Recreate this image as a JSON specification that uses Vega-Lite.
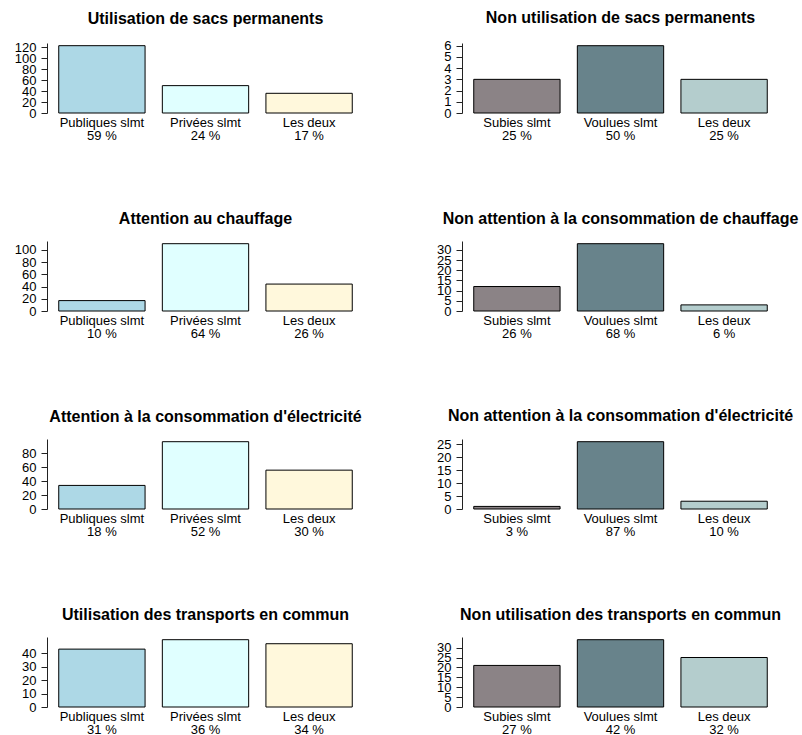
{
  "$schema": "https://vega.github.io/schema/vega-lite/v6.json",
  "padding": {"left": 11, "top": 9, "right": 0, "bottom": 0},
  "background": "white",
  "datasets": {
    "d": [
      {"panel": "P1", "cat": "Publiques slmt", "lab": "Publiques slmt|59 %", "n": 123},
      {"panel": "P1", "cat": "Privées slmt", "lab": "Privées slmt|24 %", "n": 50},
      {"panel": "P1", "cat": "Les deux", "lab": "Les deux|17 %", "n": 36},
      {"panel": "P2", "cat": "Subies slmt", "lab": "Subies slmt|25 %", "n": 3},
      {"panel": "P2", "cat": "Voulues slmt", "lab": "Voulues slmt|50 %", "n": 6},
      {"panel": "P2", "cat": "Les deux", "lab": "Les deux|25 %", "n": 3},
      {"panel": "P3", "cat": "Publiques slmt", "lab": "Publiques slmt|10 %", "n": 17},
      {"panel": "P3", "cat": "Privées slmt", "lab": "Privées slmt|64 %", "n": 110},
      {"panel": "P3", "cat": "Les deux", "lab": "Les deux|26 %", "n": 44},
      {"panel": "P4", "cat": "Subies slmt", "lab": "Subies slmt|26 %", "n": 12},
      {"panel": "P4", "cat": "Voulues slmt", "lab": "Voulues slmt|68 %", "n": 33},
      {"panel": "P4", "cat": "Les deux", "lab": "Les deux|6 %", "n": 3},
      {"panel": "P5", "cat": "Publiques slmt", "lab": "Publiques slmt|18 %", "n": 34},
      {"panel": "P5", "cat": "Privées slmt", "lab": "Privées slmt|52 %", "n": 97},
      {"panel": "P5", "cat": "Les deux", "lab": "Les deux|30 %", "n": 56},
      {"panel": "P6", "cat": "Subies slmt", "lab": "Subies slmt|3 %", "n": 1},
      {"panel": "P6", "cat": "Voulues slmt", "lab": "Voulues slmt|87 %", "n": 26},
      {"panel": "P6", "cat": "Les deux", "lab": "Les deux|10 %", "n": 3},
      {"panel": "P7", "cat": "Publiques slmt", "lab": "Publiques slmt|31 %", "n": 43},
      {"panel": "P7", "cat": "Privées slmt", "lab": "Privées slmt|36 %", "n": 50},
      {"panel": "P7", "cat": "Les deux", "lab": "Les deux|34 %", "n": 47},
      {"panel": "P8", "cat": "Subies slmt", "lab": "Subies slmt|27 %", "n": 21},
      {"panel": "P8", "cat": "Voulues slmt", "lab": "Voulues slmt|42 %", "n": 34},
      {"panel": "P8", "cat": "Les deux", "lab": "Les deux|32 %", "n": 25}
    ]
  },
  "bounds": "flush",
  "spacing": 198,
  "vconcat": [
    {
      "bounds": "flush",
      "spacing": 98,
      "resolve": {"scale": {"x": "independent", "y": "independent", "color": "independent"}},
      "hconcat": [
        {
          "data": {"name": "d"},
          "transform": [{"filter": "datum.panel == 'P1'"}],
          "title": "Utilisation de sacs permanents",
          "width": 317, "height": 70,
          "mark": {"type": "bar", "stroke": "black", "strokeWidth": 1},
          "encoding": {
            "x": {"field": "lab", "type": "nominal", "sort": null, "scale": {"paddingInner": 0.1667, "paddingOuter": 0.1133}, "axis": {"title": null, "labelExpr": "split(datum.label, '|')"}},
            "y": {"field": "n", "type": "quantitative", "scale": {"domain": [0, 127.9], "nice": false}, "axis": {"title": null, "values": [0, 20, 40, 60, 80, 100, 120]}},
            "color": {"field": "cat", "type": "nominal", "scale": {"domain": ["Publiques slmt", "Privées slmt", "Les deux"], "range": ["#ADD8E6", "#E0FFFF", "#FFF8DC"]}, "legend": null}
          }
        },
        {
          "data": {"name": "d"},
          "transform": [{"filter": "datum.panel == 'P2'"}],
          "title": "Non utilisation de sacs permanents",
          "width": 317, "height": 70,
          "mark": {"type": "bar", "stroke": "black", "strokeWidth": 1},
          "encoding": {
            "x": {"field": "lab", "type": "nominal", "sort": null, "scale": {"paddingInner": 0.1667, "paddingOuter": 0.1133}, "axis": {"title": null, "labelExpr": "split(datum.label, '|')"}},
            "y": {"field": "n", "type": "quantitative", "scale": {"domain": [0, 6.24], "nice": false}, "axis": {"title": null, "values": [0, 1, 2, 3, 4, 5, 6]}},
            "color": {"field": "cat", "type": "nominal", "scale": {"domain": ["Subies slmt", "Voulues slmt", "Les deux"], "range": ["#8B8386", "#68838B", "#B4CDCD"]}, "legend": null}
          }
        }
      ]
    },
    {
      "bounds": "flush",
      "spacing": 98,
      "resolve": {"scale": {"x": "independent", "y": "independent", "color": "independent"}},
      "hconcat": [
        {
          "data": {"name": "d"},
          "transform": [{"filter": "datum.panel == 'P3'"}],
          "title": "Attention au chauffage",
          "width": 317, "height": 70,
          "mark": {"type": "bar", "stroke": "black", "strokeWidth": 1},
          "encoding": {
            "x": {"field": "lab", "type": "nominal", "sort": null, "scale": {"paddingInner": 0.1667, "paddingOuter": 0.1133}, "axis": {"title": null, "labelExpr": "split(datum.label, '|')"}},
            "y": {"field": "n", "type": "quantitative", "scale": {"domain": [0, 114.4], "nice": false}, "axis": {"title": null, "values": [0, 20, 40, 60, 80, 100]}},
            "color": {"field": "cat", "type": "nominal", "scale": {"domain": ["Publiques slmt", "Privées slmt", "Les deux"], "range": ["#ADD8E6", "#E0FFFF", "#FFF8DC"]}, "legend": null}
          }
        },
        {
          "data": {"name": "d"},
          "transform": [{"filter": "datum.panel == 'P4'"}],
          "title": "Non attention à la consommation de chauffage",
          "width": 317, "height": 70,
          "mark": {"type": "bar", "stroke": "black", "strokeWidth": 1},
          "encoding": {
            "x": {"field": "lab", "type": "nominal", "sort": null, "scale": {"paddingInner": 0.1667, "paddingOuter": 0.1133}, "axis": {"title": null, "labelExpr": "split(datum.label, '|')"}},
            "y": {"field": "n", "type": "quantitative", "scale": {"domain": [0, 34.32], "nice": false}, "axis": {"title": null, "values": [0, 5, 10, 15, 20, 25, 30]}},
            "color": {"field": "cat", "type": "nominal", "scale": {"domain": ["Subies slmt", "Voulues slmt", "Les deux"], "range": ["#8B8386", "#68838B", "#B4CDCD"]}, "legend": null}
          }
        }
      ]
    },
    {
      "bounds": "flush",
      "spacing": 98,
      "resolve": {"scale": {"x": "independent", "y": "independent", "color": "independent"}},
      "hconcat": [
        {
          "data": {"name": "d"},
          "transform": [{"filter": "datum.panel == 'P5'"}],
          "title": "Attention à la consommation d'électricité",
          "width": 317, "height": 70,
          "mark": {"type": "bar", "stroke": "black", "strokeWidth": 1},
          "encoding": {
            "x": {"field": "lab", "type": "nominal", "sort": null, "scale": {"paddingInner": 0.1667, "paddingOuter": 0.1133}, "axis": {"title": null, "labelExpr": "split(datum.label, '|')"}},
            "y": {"field": "n", "type": "quantitative", "scale": {"domain": [0, 100.88], "nice": false}, "axis": {"title": null, "values": [0, 20, 40, 60, 80]}},
            "color": {"field": "cat", "type": "nominal", "scale": {"domain": ["Publiques slmt", "Privées slmt", "Les deux"], "range": ["#ADD8E6", "#E0FFFF", "#FFF8DC"]}, "legend": null}
          }
        },
        {
          "data": {"name": "d"},
          "transform": [{"filter": "datum.panel == 'P6'"}],
          "title": "Non attention à la consommation d'électricité",
          "width": 317, "height": 70,
          "mark": {"type": "bar", "stroke": "black", "strokeWidth": 1},
          "encoding": {
            "x": {"field": "lab", "type": "nominal", "sort": null, "scale": {"paddingInner": 0.1667, "paddingOuter": 0.1133}, "axis": {"title": null, "labelExpr": "split(datum.label, '|')"}},
            "y": {"field": "n", "type": "quantitative", "scale": {"domain": [0, 27.04], "nice": false}, "axis": {"title": null, "values": [0, 5, 10, 15, 20, 25]}},
            "color": {"field": "cat", "type": "nominal", "scale": {"domain": ["Subies slmt", "Voulues slmt", "Les deux"], "range": ["#8B8386", "#68838B", "#B4CDCD"]}, "legend": null}
          }
        }
      ]
    },
    {
      "bounds": "flush",
      "spacing": 98,
      "resolve": {"scale": {"x": "independent", "y": "independent", "color": "independent"}},
      "hconcat": [
        {
          "data": {"name": "d"},
          "transform": [{"filter": "datum.panel == 'P7'"}],
          "title": "Utilisation des transports en commun",
          "width": 317, "height": 70,
          "mark": {"type": "bar", "stroke": "black", "strokeWidth": 1},
          "encoding": {
            "x": {"field": "lab", "type": "nominal", "sort": null, "scale": {"paddingInner": 0.1667, "paddingOuter": 0.1133}, "axis": {"title": null, "labelExpr": "split(datum.label, '|')"}},
            "y": {"field": "n", "type": "quantitative", "scale": {"domain": [0, 52], "nice": false}, "axis": {"title": null, "values": [0, 10, 20, 30, 40]}},
            "color": {"field": "cat", "type": "nominal", "scale": {"domain": ["Publiques slmt", "Privées slmt", "Les deux"], "range": ["#ADD8E6", "#E0FFFF", "#FFF8DC"]}, "legend": null}
          }
        },
        {
          "data": {"name": "d"},
          "transform": [{"filter": "datum.panel == 'P8'"}],
          "title": "Non utilisation des transports en commun",
          "width": 317, "height": 70,
          "mark": {"type": "bar", "stroke": "black", "strokeWidth": 1},
          "encoding": {
            "x": {"field": "lab", "type": "nominal", "sort": null, "scale": {"paddingInner": 0.1667, "paddingOuter": 0.1133}, "axis": {"title": null, "labelExpr": "split(datum.label, '|')"}},
            "y": {"field": "n", "type": "quantitative", "scale": {"domain": [0, 35.36], "nice": false}, "axis": {"title": null, "values": [0, 5, 10, 15, 20, 25, 30]}},
            "color": {"field": "cat", "type": "nominal", "scale": {"domain": ["Subies slmt", "Voulues slmt", "Les deux"], "range": ["#8B8386", "#68838B", "#B4CDCD"]}, "legend": null}
          }
        }
      ]
    }
  ],
  "resolve": {"scale": {"x": "independent", "y": "independent", "color": "independent"}},
  "config": {
    "font": "Liberation Sans",
    "view": {"stroke": null},
    "title": {"font": "Liberation Sans", "fontSize": 16, "fontWeight": "bold", "color": "black", "anchor": "middle", "baseline": "alphabetic", "offset": 14},
    "axis": {"grid": false, "labelFont": "Liberation Sans", "labelFontSize": 13, "labelColor": "black", "domainColor": "#222222", "tickColor": "#222222", "domainWidth": 1, "tickWidth": 1},
    "axisY": {"tickSize": 6, "labelPadding": 5, "labelOverlap": false, "labelBound": false, "labelFlush": false, "minExtent": 36, "maxExtent": 36},
    "axisX": {"ticks": false, "domain": false, "labelAngle": 0, "labelPadding": 3, "labelLineHeight": 13, "labelBaseline": "top"}
  }
}
